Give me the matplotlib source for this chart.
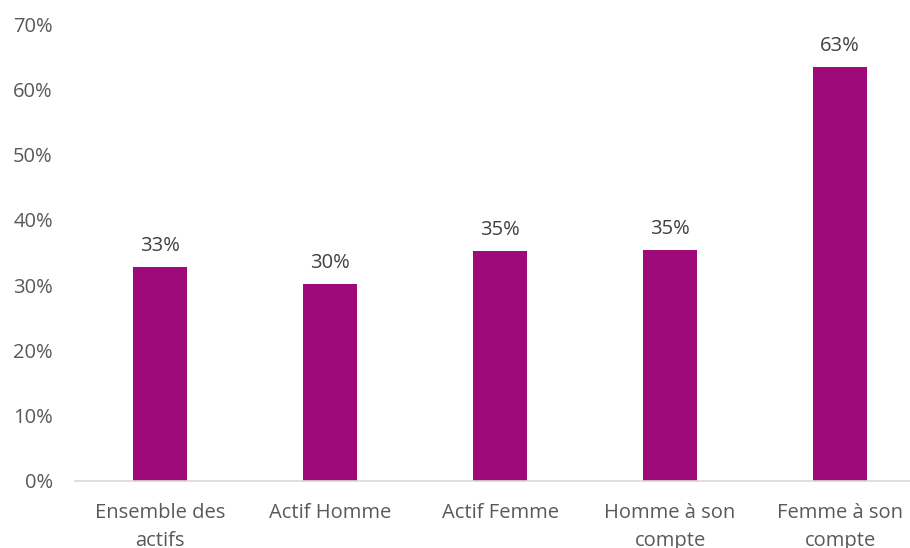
import matplotlib.pyplot as plt

categories = ["Ensemble des\nactifs", "Actif Homme", "Actif Femme", "Homme à son\ncompte", "Femme à son\ncompte"]
values = [32.8, 30.2, 35.2, 35.4, 63.4]
yticks = [0, 10, 20, 30, 40, 50, 60, 70]

plt.rcParams['font.family'] = ['Open Sans', 'DejaVu Sans']
grey = "#595959"

fig = plt.figure(figsize=(9.1, 5.48), dpi=100)
ax = fig.add_axes([75/910, 67/548, 850/910, 457/548])

x = list(range(len(values)))
ax.bar(x, values, width=0.318, color="#9E0A7A")
for xi, v in zip(x, values):
    ax.annotate(f"{round(v)}%", (xi, v), xytext=(0, 8), textcoords="offset points",
                ha="center", va="bottom", fontsize=14.5, color="#404040")

ax.set_xlim(-0.5, 4.5)
ax.set_ylim(0, 70)
ax.set_xticks(x)
ax.set_xticklabels(categories, fontsize=14.5, color=grey, linespacing=1.5)
ax.set_yticks(yticks)
ax.set_yticklabels([f"{t}%" for t in yticks], fontsize=14.5, color=grey)
ax.tick_params(axis="both", length=0)
ax.tick_params(axis="x", pad=16)
ax.tick_params(axis="y", pad=16)
for s in ["top", "right", "left"]:
    ax.spines[s].set_visible(False)
ax.spines["bottom"].set_color("#D9D9D9")
ax.spines["bottom"].set_linewidth(1.2)

plt.savefig("out.png", dpi=100)
